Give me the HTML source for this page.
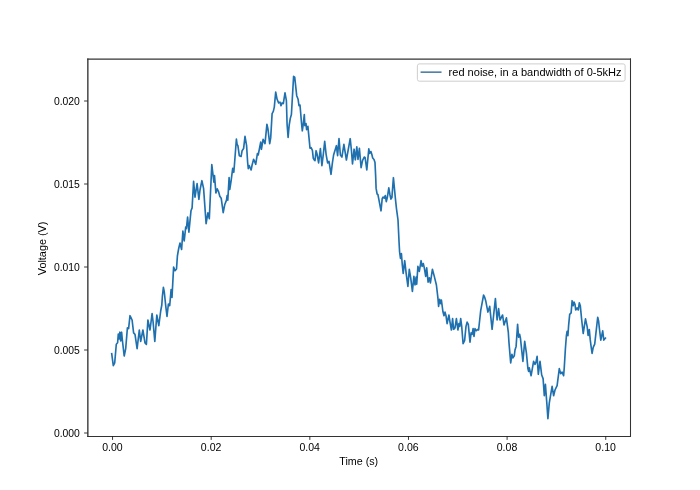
<!DOCTYPE html>
<html><head><meta charset="utf-8"><style>
html,body{margin:0;padding:0;background:#fff;width:700px;height:490px;overflow:hidden}
svg{display:block;will-change:transform}
text{font-family:"Liberation Sans",sans-serif;fill:#000}
</style></head><body>
<svg width="700" height="490" viewBox="0 0 700 490">
<rect x="0" y="0" width="700" height="490" fill="#fff"/>
<g stroke="#333" fill="none">
<path d="M87.85 58.4V436.9" stroke-width="1.35"/>
<path d="M87.2 59.05H631" stroke-width="1.2"/>
<path d="M630.5 58.4V436.9M87.2 436.5H631" stroke-width="1.05"/>
</g>
<g stroke="#000" stroke-width="0.78" fill="none">
<path d="M112.56 436.5V439.9M211.2 436.5V439.9M309.83 436.5V439.9M408.47 436.5V439.9M507.1 436.5V439.9M605.74 436.5V439.9"/>
<path d="M87.5 433V433M84.1 433H87.5M84.1 350H87.5M84.1 267H87.5M84.1 184H87.5M84.1 101H87.5"/>
</g>
<path d="M111.7,353.6 L113.3,365.7 L114.7,362.9 L116.3,344.2 L117.6,342.8 L118.3,334 L119.1,339 L119.9,332.2 L120.7,340.9 L121.6,332.2 L122.3,339.5 L124.2,356 L125.7,348.6 L127.4,327.9 L128.6,328.6 L130,315.7 L132.1,320 L133.6,332.9 L135,334.3 L137.1,348.6 L139.3,330 L140.7,341.4 L142.9,330 L145,342.9 L146.4,344.3 L147.9,320 L150,330 L152.1,313.6 L153.1,322 L154.8,341.5 L156.8,315 L158.8,325.6 L160.7,311 L161.8,305 L162.4,296 L163.4,287.4 L164.3,292 L165.7,305.7 L167,316.5 L168.4,304 L169.7,305.7 L171.1,289.5 L172,297.5 L173.6,267.1 L175,270.7 L176.5,269 L177.4,256 L178.6,249 L180,243 L181.6,249.5 L182.9,231 L184.2,241 L185.7,227.1 L186.4,228.6 L187.6,217.1 L188.9,232.1 L191,210.7 L192.1,207.9 L193.6,181.4 L195,197.1 L197.1,183.6 L198.9,199.3 L200,190 L201.9,180.7 L203.6,188.6 L206.1,223.6 L207.9,212.9 L209.3,218.6 L211.8,164.5 L213.1,175.6 L213.9,182.2 L214.5,175.6 L215.9,192.9 L217.2,188.9 L218.5,191.5 L219.8,196.2 L221.2,198.2 L223.2,212.7 L224.7,204.8 L226.5,200.1 L227.1,195.5 L227.8,200.1 L229.1,177.6 L229.8,189.5 L231.1,180.9 L232.7,168.3 L233.8,172.3 L234.5,164 L236.4,139 L237.1,144.3 L237.9,145.7 L239.3,155.7 L241.1,156.4 L242.1,150.7 L243.6,148.6 L245,136.4 L246.6,145.7 L247.6,162 L248.3,168.6 L249.2,165.5 L250,167.5 L251.1,170 L252.1,165 L253.6,159.3 L254.6,161.4 L255.7,164.3 L257.4,153.6 L258.2,155 L259.3,149.3 L260.7,142.1 L261.4,149.3 L263.1,139.3 L265,143.6 L266.9,124.3 L267.9,128.6 L269.7,143.6 L270.7,137.9 L272.1,113.6 L273.3,111.4 L274.3,107.1 L275.7,92.1 L277.1,99.3 L278.6,102.9 L280,102.1 L281,105.7 L282.1,102.9 L283.3,103.6 L285,92.9 L286.4,100.7 L287.1,124.5 L288.1,137.5 L289.2,125 L290.3,118.4 L291.4,114.5 L293.6,76.4 L294.7,77.1 L296.7,95.7 L298.1,99.3 L299,105.7 L300,105 L301.5,123 L302.3,130.8 L303.2,124.6 L304.3,114.5 L304.9,125.7 L306,123.5 L306.6,129.7 L307.9,126.3 L310,148.2 L311.1,147.6 L312.4,150.4 L313.3,158.3 L314.3,160 L315,160.7 L316.1,150.7 L317.1,154.3 L318.6,162.9 L320.4,148.6 L321.9,165.7 L323.3,154.3 L324.7,141.4 L326.1,154.3 L327.6,162.9 L329,161.4 L331,174.3 L332.4,162.9 L333.6,155 L336.4,145.7 L337.6,155.7 L339,138.6 L340.4,155 L341.9,157.1 L343.9,144.3 L346.4,160 L350.2,138.7 L351.4,150 L352.5,164 L354.1,149.2 L355.3,159.8 L356.8,146.9 L358,159.4 L359.4,148.3 L361.1,167.6 L362.6,160.3 L364.2,157.1 L365.1,157.5 L366.8,169.9 L368.8,148.8 L369.7,153.4 L370.9,151.5 L371.8,154.3 L372.7,158 L374,159.5 L375,162.6 L375.7,177.1 L376.1,188.4 L377.1,194 L377.9,194.5 L378.9,199.6 L381,210.8 L382.2,198.6 L383,197 L384.2,198.1 L385.3,195.5 L386.3,201.6 L387.3,197.6 L388.8,187.9 L389.9,194.5 L390.9,199.1 L391.9,197.6 L393.4,177.7 L395.5,199.6 L396.5,208.8 L398,220 L399.1,243 L399.6,252 L400.5,258.5 L401.4,253.5 L402.3,265 L403.2,273.5 L404.7,260.7 L406.1,272.9 L407.9,286.4 L409.3,269.3 L410.7,277.9 L412.4,291.4 L413.9,276.4 L415,285 L416.1,277.1 L416.7,284.3 L417.9,266.4 L419.3,271.4 L421.1,260.7 L422.1,266.4 L423.3,263.6 L424.3,267.9 L425.7,276.4 L426.7,267.9 L428.1,282.1 L429.3,277.9 L430.4,282.9 L432.4,269.3 L434.3,276.4 L436.4,285 L437.9,297.9 L438.6,306.4 L439.6,299.3 L440.7,303.6 L441.4,300 L442.9,311.5 L444,315.7 L445,312.1 L446,315.7 L447.1,323.6 L448.9,315 L450,322.1 L451.4,330 L452.6,318.6 L453.6,329.3 L455,327.9 L456.4,318.6 L457.9,330 L458.9,323.6 L459.7,326.4 L460.7,318.6 L461.7,326.4 L463.1,343.6 L464.6,340.7 L466,326.4 L467.1,322.1 L468.3,324.3 L470,342.1 L471.1,332.9 L472.1,334.3 L473.1,328.6 L474,336.4 L475,328.6 L476.4,330.7 L477.9,329.3 L478.6,330 L480.7,310.7 L483.6,295 L484.6,297.1 L485.7,300.7 L487.9,312.1 L489.7,306.4 L492.1,329.3 L495.4,298.6 L497.1,320 L498.6,308.6 L500,320 L502.6,315 L504,325 L506.4,317.9 L508.3,332.1 L509,342.9 L510.7,362.9 L511.9,354.3 L512.9,357.9 L514.3,355.7 L515,350 L516.1,346.4 L517.6,324.3 L518.6,337.1 L519.6,334.3 L520.4,337.9 L522.9,361.4 L524.7,341.4 L526.4,352.9 L527.9,368.6 L528.6,371.4 L529.3,367.9 L531.1,375.7 L533.6,361.4 L535,364.3 L536,362.1 L537.1,356.4 L538.3,374.3 L540,361.4 L541.7,375 L543.1,378.6 L544.3,395.7 L545.4,384.3 L546.9,404.3 L547.9,418.6 L549.3,402.9 L552.1,386.4 L553.6,395.7 L555,390 L557.1,385.7 L559.3,368.6 L560.7,373.6 L562.1,372.1 L563.6,375.7 L564.3,367.1 L565.4,348.6 L566.4,335.7 L567.1,331.4 L567.9,335.7 L568.6,325.7 L569.7,314.3 L571.1,312.9 L572.1,300.7 L573.1,305.7 L574,302.1 L575,304.3 L575.7,310 L577.1,307.9 L578.3,310 L579.3,302.9 L580.3,305.7 L581.7,320 L583.2,333.5 L585.5,318.9 L587.2,326.8 L588.1,335.5 L589.3,329.5 L590.2,339.4 L591.3,348 L592.1,353.4 L593.2,347.4 L594.7,344.1 L597.7,317.3 L598.6,321 L599.5,329.5 L600.8,340.1 L602.7,330.8 L603.8,340.1 L605.4,338.1" fill="none" stroke="#1f70ae" stroke-width="1.65" stroke-linejoin="round" stroke-linecap="square"/>
<g font-size="10.5">
<text x="79.9" y="104.6" text-anchor="end" textLength="26" lengthAdjust="spacingAndGlyphs">0.020</text>
<text x="79.9" y="187.6" text-anchor="end" textLength="26" lengthAdjust="spacingAndGlyphs">0.015</text>
<text x="79.9" y="270.6" text-anchor="end" textLength="26" lengthAdjust="spacingAndGlyphs">0.010</text>
<text x="79.9" y="353.6" text-anchor="end" textLength="26" lengthAdjust="spacingAndGlyphs">0.005</text>
<text x="79.9" y="436.6" text-anchor="end" textLength="26" lengthAdjust="spacingAndGlyphs">0.000</text>
<text x="112.46" y="450.6" text-anchor="middle" textLength="20.5" lengthAdjust="spacingAndGlyphs">0.00</text>
<text x="211.10" y="450.6" text-anchor="middle" textLength="20.5" lengthAdjust="spacingAndGlyphs">0.02</text>
<text x="309.73" y="450.6" text-anchor="middle" textLength="20.5" lengthAdjust="spacingAndGlyphs">0.04</text>
<text x="408.37" y="450.6" text-anchor="middle" textLength="20.5" lengthAdjust="spacingAndGlyphs">0.06</text>
<text x="507.00" y="450.6" text-anchor="middle" textLength="20.5" lengthAdjust="spacingAndGlyphs">0.08</text>
<text x="605.64" y="450.6" text-anchor="middle" textLength="20.5" lengthAdjust="spacingAndGlyphs">0.10</text>
<text x="358.75" y="464.8" text-anchor="middle" textLength="38.8" lengthAdjust="spacingAndGlyphs">Time (s)</text>
<text transform="translate(45.8 248.4) rotate(-90)" x="0" y="0" text-anchor="middle" textLength="53.6" lengthAdjust="spacingAndGlyphs">Voltage (V)</text>
</g>
<rect x="417.4" y="63.9" width="207.7" height="17.3" rx="1.9" ry="1.9" fill="#fff" fill-opacity="0.8" stroke="#ccc" stroke-width="0.97"/>
<path d="M421.3 72.15H440.8" stroke="#3a729c" stroke-width="1.46" stroke-linecap="square"/>
<text x="448.6" y="75.7" font-size="10.5" textLength="173" lengthAdjust="spacingAndGlyphs">red noise, in a bandwidth of 0-5kHz</text>
</svg>
</body></html>
